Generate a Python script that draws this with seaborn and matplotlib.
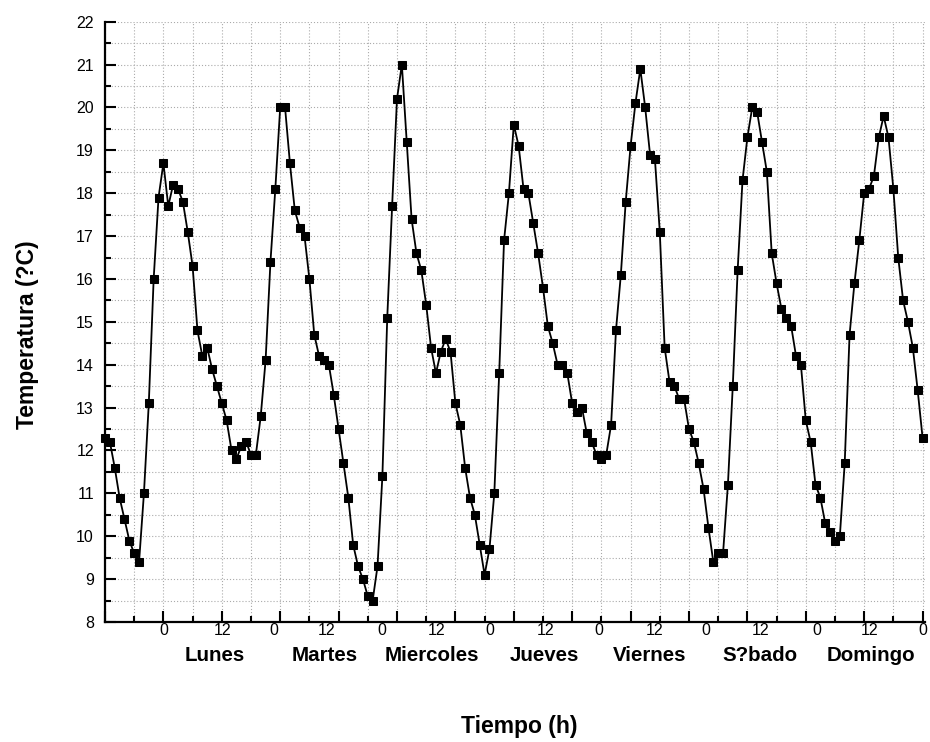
import numpy as np
import pandas as pd
import matplotlib
matplotlib.use("Agg")
import matplotlib.pyplot as plt
import matplotlib.transforms as mtransforms
from matplotlib.ticker import MultipleLocator
import seaborn as sns

# ---- data (hourly readings over one week) ----
temperature = [
    12.3, 12.2, 11.6, 10.9, 10.4, 9.9, 9.6, 9.4, 11.0, 13.1,
    16.0, 17.9, 18.7, 17.7, 18.2, 18.1, 17.8, 17.1, 16.3, 14.8,
    14.2, 14.4, 13.9, 13.5, 13.1, 12.7, 12.0, 11.8, 12.1, 12.2,
    11.9, 11.9, 12.8, 14.1, 16.4, 18.1, 20.0, 20.0, 18.7, 17.6,
    17.2, 17.0, 16.0, 14.7, 14.2, 14.1, 14.0, 13.3, 12.5, 11.7,
    10.9, 9.8, 9.3, 9.0, 8.6, 8.5, 9.3, 11.4, 15.1, 17.7,
    20.2, 21.0, 19.2, 17.4, 16.6, 16.2, 15.4, 14.4, 13.8, 14.3,
    14.6, 14.3, 13.1, 12.6, 11.6, 10.9, 10.5, 9.8, 9.1, 9.7,
    11.0, 13.8, 16.9, 18.0, 19.6, 19.1, 18.1, 18.0, 17.3, 16.6,
    15.8, 14.9, 14.5, 14.0, 14.0, 13.8, 13.1, 12.9, 13.0, 12.4,
    12.2, 11.9, 11.8, 11.9, 12.6, 14.8, 16.1, 17.8, 19.1, 20.1,
    20.9, 20.0, 18.9, 18.8, 17.1, 14.4, 13.6, 13.5, 13.2, 13.2,
    12.5, 12.2, 11.7, 11.1, 10.2, 9.4, 9.6, 9.6, 11.2, 13.5,
    16.2, 18.3, 19.3, 20.0, 19.9, 19.2, 18.5, 16.6, 15.9, 15.3,
    15.1, 14.9, 14.2, 14.0, 12.7, 12.2, 11.2, 10.9, 10.3, 10.1,
    9.9, 10.0, 11.7, 14.7, 15.9, 16.9, 18.0, 18.1, 18.4, 19.3,
    19.8, 19.3, 18.1, 16.5, 15.5, 15.0, 14.4, 13.4, 12.3,
]
hours = list(range(len(temperature)))

hour_labels = ["0", "12", "0", "12", "0", "12", "0", "12",
               "0", "12", "0", "12", "0", "12", "0"]
hour_label_pos = [12, 24.1, 34.7, 45.6, 56.9, 68.2, 79.1, 90.6,
                  101.5, 113.0, 123.4, 134.7, 146.2, 157.1, 168.0]
days = ["Lunes", "Martes", "Miercoles", "Jueves", "Viernes", "S?bado", "Domingo"]
day_pos = [22.6, 45.2, 67.2, 90.2, 112.0, 134.5, 157.4]

df = pd.DataFrame({"Tiempo": hours, "Temperatura": temperature})

# ---- style ----
sns.set_style("ticks")
plt.rcParams["font.family"] = ["Liberation Sans", "DejaVu Sans"]

fig = plt.figure(figsize=(9.30, 7.42), dpi=100)
ax = fig.add_axes([105 / 930, (742 - 622) / 742, 820 / 930, 600.3 / 742])

sns.lineplot(data=df, x="Tiempo", y="Temperatura", ax=ax, color="black",
             linewidth=1.3, marker="s", markersize=5.8, markeredgecolor="black",
             markerfacecolor="black", clip_on=False, zorder=5)

ax.set_xlim(0, 168.5)
ax.set_ylim(8, 22)

ax.xaxis.set_major_locator(MultipleLocator(12))
ax.xaxis.set_minor_locator(MultipleLocator(6))
ax.yaxis.set_major_locator(MultipleLocator(1))
ax.yaxis.set_minor_locator(MultipleLocator(0.5))

ax.grid(True, which="both", color="#aaaaaa", linestyle=(0, (1, 1.8)), linewidth=0.8)
ax.set_axisbelow(True)

for side in ("top", "right"):
    ax.spines[side].set_visible(False)
for side in ("left", "bottom"):
    ax.spines[side].set_linewidth(1.6)
    ax.spines[side].set_color("black")

ax.tick_params(axis="both", which="major", direction="in", length=8, width=1.5,
               color="black")
ax.tick_params(axis="both", which="minor", direction="in", length=4.5, width=1.5,
               color="black")
ax.tick_params(axis="x", which="both", labelbottom=False)
ax.tick_params(axis="y", which="major", labelsize=11.5, pad=8, labelcolor="black")

# custom hour labels and day names under the axis
trans = mtransforms.blended_transform_factory(ax.transData, ax.transAxes)
for pos, lab in zip(hour_label_pos, hour_labels):
    ax.text(pos, -0.0135, lab, transform=trans, ha="center", va="center",
            fontsize=11.5, color="black")
for pos, lab in zip(day_pos, days):
    ax.text(pos, -0.0565, lab, transform=trans, ha="center", va="center",
            fontsize=14.8, fontweight="bold", color="black")

ax.set_xlabel("Tiempo (h)", fontsize=16.5, fontweight="bold", color="black")
ax.set_ylabel("Temperatura (?C)", fontsize=16.5, fontweight="bold", color="black")
ax.xaxis.set_label_coords(0.505, -0.155)
ax.yaxis.set_label_coords(-0.08, 0.478)

fig.savefig("out.png", dpi=100, facecolor="white")
